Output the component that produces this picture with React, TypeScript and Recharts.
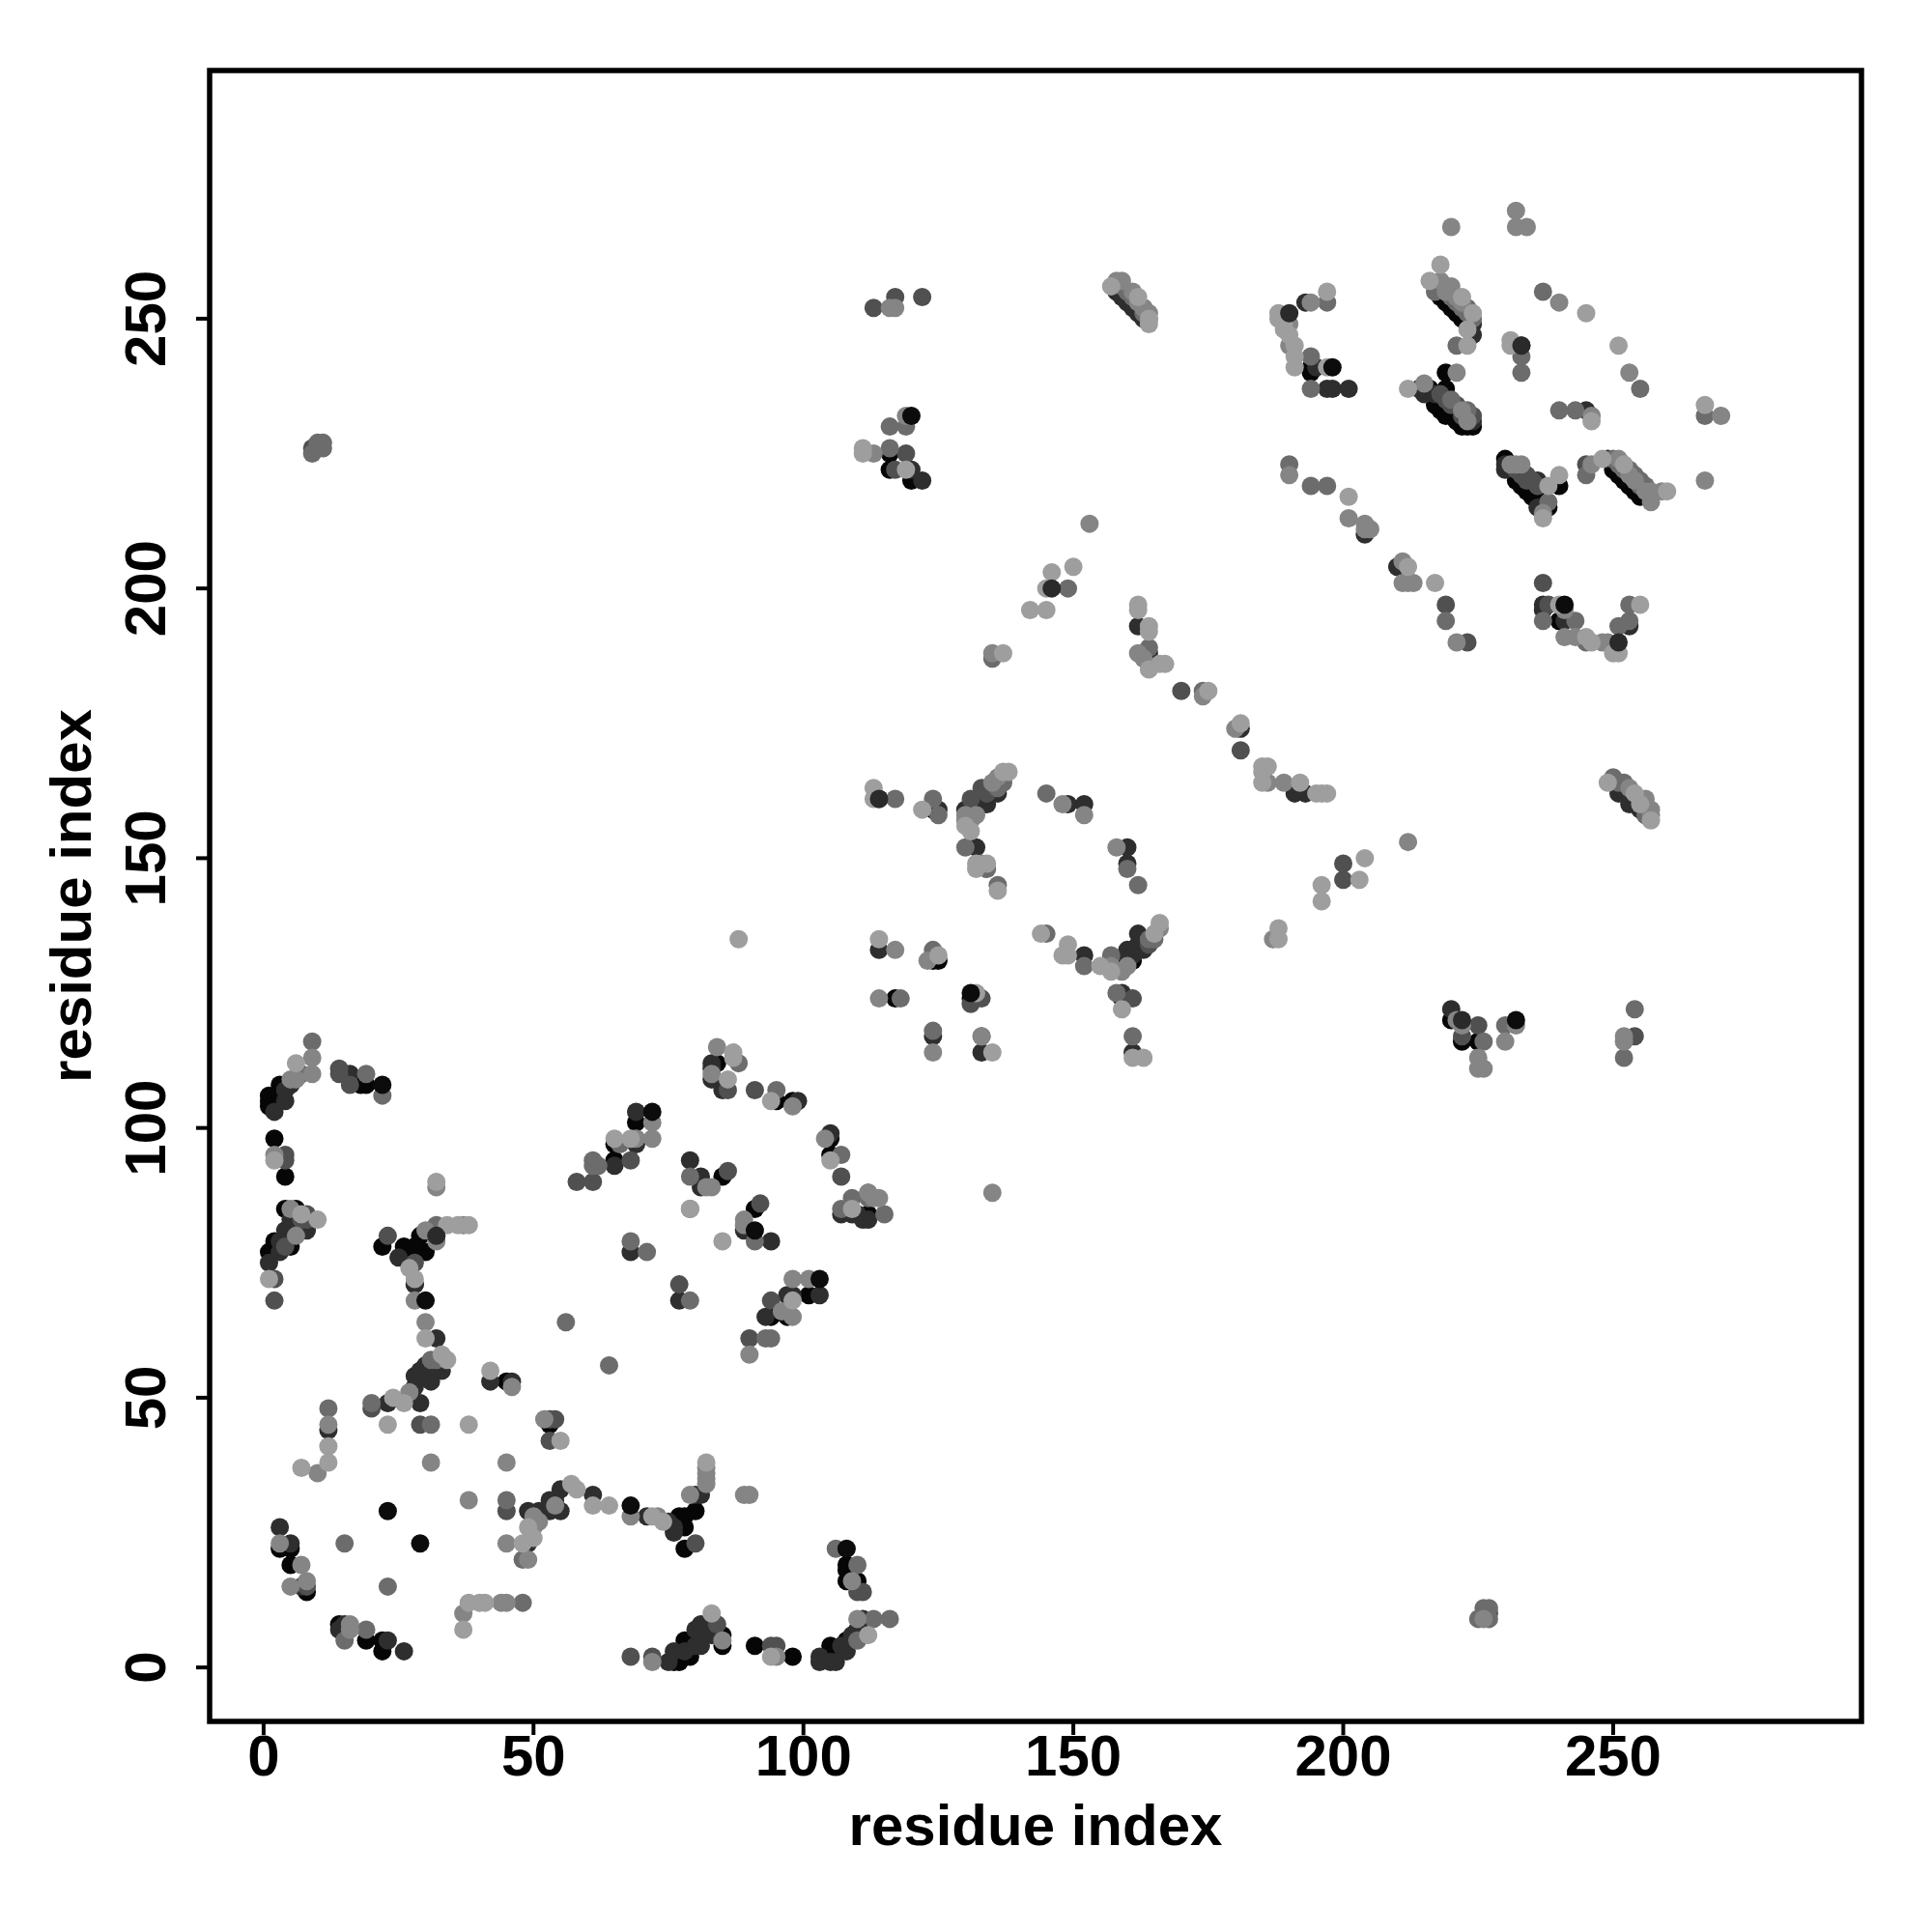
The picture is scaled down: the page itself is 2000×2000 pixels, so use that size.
import { ScatterChart, Scatter, XAxis, YAxis, ReferenceArea } from "recharts";

type Contact = [number, number];

const axisTicks = [0, 50, 100, 150, 200, 250];
const axisDomain = [-10, 296];
const axisTitle = "residue index";
const fontFamily = '"Liberation Sans", Arial, sans-serif';

// contacts split by grey level
const greyLightest: Contact[] = [
  [1, 72], [7, 37], [12, 41], [12, 38], [23, 45], [26, 49], [24, 50], [28, 72], [27, 74], [30, 61],
  [33, 58], [34, 57], [38, 45], [42, 55], [37, 7], [38, 12], [40, 12], [41, 12], [49, 26], [50, 24],
  [48, 23], [57, 34], [58, 33], [61, 30], [64, 30], [72, 28], [74, 27], [83, 10], [82, 38], [94, 2],
  [112, 6], [2, 94], [6, 112], [7, 84], [10, 83], [34, 82], [36, 82], [38, 82], [32, 90], [65, 98],
  [68, 98], [79, 85], [85, 79], [87, 114], [87, 113], [86, 109], [94, 105], [98, 68], [105, 94], [109, 85],
  [88, 135], [113, 163], [113, 161], [114, 135], [122, 159], [125, 132], [132, 125], [135, 114], [132, 149], [132, 148],
  [134, 149], [130, 156], [131, 155], [137, 166], [138, 166], [136, 144], [144, 136], [149, 134], [149, 132], [148, 132],
  [155, 130], [157, 129], [159, 122], [161, 113], [163, 113], [165, 136], [166, 138], [111, 226], [111, 225], [119, 222],
  [137, 188], [142, 196], [145, 196], [145, 200], [146, 203], [150, 204], [162, 197], [162, 196], [164, 193], [164, 192],
  [164, 185], [166, 186], [167, 186], [175, 181], [181, 175], [185, 167], [185, 166], [185, 164], [186, 167], [192, 164],
  [195, 162], [196, 162], [197, 162], [204, 150], [203, 146], [196, 145], [196, 142], [188, 137], [188, 135], [157, 256],
  [162, 254], [164, 249], [249, 164], [254, 162], [257, 157], [197, 255], [188, 251], [188, 250], [189, 249], [189, 248],
  [190, 247], [191, 245], [191, 243], [191, 241], [197, 241], [218, 260], [216, 257], [212, 237], [231, 246], [231, 245],
  [245, 251], [251, 245], [246, 231], [267, 234], [201, 217], [212, 204], [217, 201], [237, 213], [240, 221], [238, 219],
  [248, 224], [252, 223], [260, 218], [240, 197], [245, 191], [246, 190], [250, 188], [251, 188], [255, 197], [223, 245],
  [223, 248], [222, 254], [224, 251], [55, 42], [255, 160], [164, 250],
];

const greyMid: Contact[] = [
  [3, 23], [7, 19], [5, 15], [8, 16], [16, 8], [16, 7], [12, 45], [10, 36], [31, 38], [45, 38],
  [38, 31], [45, 23], [46, 52], [30, 64], [28, 68], [37, 10], [44, 12], [45, 12], [51, 27], [50, 26],
  [49, 20], [68, 28], [73, 28], [79, 32], [82, 37], [82, 36], [82, 35], [82, 34], [89, 32], [90, 32],
  [95, 2], [72, 1], [85, 5], [110, 9], [109, 16], [2, 95], [5, 109], [9, 113], [9, 110], [5, 85],
  [32, 89], [37, 82], [32, 79], [30, 81], [72, 101], [72, 98], [69, 98], [82, 89], [83, 89], [89, 83],
  [89, 82], [84, 115], [83, 110], [98, 72], [101, 72], [98, 65], [96, 66], [104, 98], [113, 87], [114, 87],
  [98, 104], [90, 58], [117, 252], [116, 252], [119, 232], [113, 225], [130, 158], [130, 157], [132, 158], [131, 157],
  [135, 164], [136, 165], [133, 149], [158, 152], [148, 160], [152, 158], [159, 129], [166, 137], [124, 114], [117, 133],
  [114, 124], [123, 131], [133, 117], [153, 212], [135, 188], [162, 188], [163, 187], [174, 180], [180, 174], [186, 164],
  [189, 164], [212, 153], [187, 135], [159, 257], [161, 255], [158, 257], [256, 161], [257, 159], [190, 249], [190, 245],
  [194, 253], [190, 221], [218, 257], [219, 255], [220, 256], [221, 240], [222, 233], [215, 238], [223, 231], [240, 253],
  [253, 240], [246, 232], [270, 232], [267, 220], [201, 213], [204, 212], [204, 211], [205, 211], [211, 205], [212, 201],
  [211, 201], [213, 201], [233, 223], [237, 214], [246, 223], [251, 224], [259, 218], [257, 216], [241, 196], [241, 191],
  [243, 191], [248, 190], [249, 190], [221, 190], [221, 120], [222, 119], [225, 111], [226, 111], [232, 119], [232, 267],
  [232, 270], [234, 267], [220, 267], [226, 9], [252, 116], [252, 117], [230, 116], [225, 113], [135, 88], [112, 88],
  [52, 46], [27, 51], [50, 28], [54, 30], [162, 253], [163, 252], [164, 251], [253, 163], [255, 161], [256, 160],
  [257, 158], [219, 256], [220, 255], [221, 254], [222, 253], [231, 223], [232, 223], [253, 221], [254, 220], [256, 218],
  [257, 218], [157, 130], [160, 130], [6, 80], [6, 109],
];

const greyDark: Contact[] = [
  [15, 23], [23, 15], [12, 48], [20, 49], [15, 5], [19, 7], [31, 45], [45, 31], [48, 12], [48, 20],
  [110, 5], [113, 9], [116, 9], [106, 22], [110, 19], [9, 116], [19, 110], [22, 106], [32, 82], [68, 79],
  [71, 77], [56, 64], [64, 56], [61, 94], [61, 93], [62, 93], [66, 97], [79, 91], [79, 85], [91, 79],
  [95, 107], [107, 95], [88, 112], [107, 85], [109, 87], [112, 87], [112, 88], [115, 84], [79, 68], [93, 61],
  [94, 61], [116, 230], [116, 226], [119, 230], [130, 152], [134, 148], [136, 145], [124, 161], [117, 161], [125, 158],
  [145, 162], [145, 136], [152, 130], [157, 132], [158, 125], [161, 117], [162, 145], [160, 148], [164, 135], [137, 164],
  [124, 133], [118, 124], [124, 118], [133, 117], [149, 200], [135, 187], [164, 189], [174, 181], [250, 165], [256, 158],
  [164, 250], [163, 251], [197, 253], [194, 243], [194, 237], [190, 223], [194, 219], [233, 243], [233, 240], [237, 255],
  [255, 237], [240, 233], [243, 233], [267, 232], [221, 245], [217, 255], [224, 250], [220, 235], [223, 233], [238, 216],
  [245, 221], [253, 222], [255, 220], [256, 219], [237, 194], [243, 194], [245, 190], [251, 193], [253, 194], [253, 197],
  [219, 194], [226, 116], [230, 119], [254, 122], [227, 11], [226, 11], [225, 9], [227, 9], [9, 225], [10, 227],
  [11, 226], [11, 227], [252, 113], [159, 256], [160, 255], [161, 254], [251, 164], [252, 164], [218, 256], [219, 255],
  [220, 254], [221, 253], [222, 252], [223, 251], [223, 252], [250, 224], [251, 223], [252, 222], [254, 221], [255, 219],
  [165, 135], [136, 163], [32, 57], [31, 57], [7, 110], [197, 219],
];

const greyDeep: Contact[] = [
  [2, 72], [2, 68], [8, 15], [80, 23], [29, 45], [45, 29], [20, 48], [53, 42], [68, 2], [72, 2],
  [84, 8], [94, 4], [95, 4], [110, 14], [111, 14], [8, 84], [8, 83], [14, 111], [14, 110], [16, 108],
  [4, 95], [4, 94], [23, 80], [28, 75], [68, 94], [58, 90], [61, 90], [77, 71], [86, 92], [92, 86],
  [91, 107], [86, 107], [107, 91], [94, 68], [90, 61], [113, 252], [117, 254], [122, 254], [119, 225], [117, 222],
  [133, 163], [131, 161], [161, 124], [133, 124], [131, 123], [170, 181], [181, 170], [200, 146], [200, 149], [219, 197],
  [223, 190], [234, 221], [245, 223], [238, 197], [225, 119], [222, 117], [254, 117], [237, 201], [9, 226], [227, 10],
  [53, 46], [54, 46], [218, 236], [219, 235], [220, 234], [221, 234], [222, 232], [223, 232], [224, 232], [232, 222],
  [233, 221], [234, 220], [235, 220], [236, 219], [164, 134], [134, 162], [135, 163], [7, 83], [4, 78],
];

const greyCharcoal: Contact[] = [
  [3, 26], [5, 23], [7, 15], [15, 8], [14, 7], [23, 5], [26, 3], [12, 44], [23, 49], [42, 53],
  [46, 53], [32, 61], [33, 55], [32, 56], [30, 56], [30, 54], [31, 53], [28, 54], [29, 55], [28, 52],
  [29, 49], [55, 33], [54, 31], [55, 29], [53, 31], [53, 29], [49, 29], [51, 29], [49, 23], [61, 32],
  [71, 28], [75, 27], [76, 26], [76, 25], [76, 3], [75, 1], [78, 3], [80, 7], [80, 4], [81, 6],
  [81, 4], [81, 8], [83, 6], [103, 2], [103, 1], [105, 1], [106, 1], [108, 3], [107, 4], [109, 6],
  [111, 9], [110, 7], [80, 32], [81, 32], [5, 108], [4, 107], [2, 103], [4, 105], [16, 110], [5, 81],
  [7, 81], [8, 81], [4, 81], [1, 75], [3, 77], [25, 76], [32, 80], [28, 71], [68, 77], [69, 103],
  [69, 98], [69, 97], [65, 93], [79, 94], [81, 91], [81, 89], [89, 81], [94, 79], [77, 68], [83, 112],
  [83, 111], [83, 109], [85, 107], [99, 105], [105, 99], [107, 84], [110, 84], [109, 84], [112, 83], [111, 83],
  [97, 69], [98, 69], [103, 69], [93, 65], [114, 161], [125, 159], [130, 159], [136, 162], [134, 160], [132, 160],
  [131, 159], [132, 152], [149, 160], [152, 160], [160, 152], [160, 149], [159, 125], [159, 131], [160, 133], [162, 134],
  [162, 136], [163, 133], [152, 132], [114, 133], [124, 117], [133, 114], [161, 114], [122, 220], [120, 222], [158, 256],
  [160, 254], [163, 252], [252, 163], [251, 162], [253, 160], [193, 253], [198, 237], [197, 237], [201, 237], [195, 241],
  [233, 245], [245, 233], [224, 249], [224, 247], [214, 237], [215, 236], [217, 236], [224, 231], [230, 222], [236, 220],
  [230, 223], [236, 215], [249, 224], [257, 217], [210, 204], [204, 210], [237, 197], [237, 196], [241, 194], [253, 193],
  [220, 122], [162, 193], [164, 188], [181, 174], [191, 162], [193, 162], [158, 255], [159, 254], [160, 253], [161, 252],
  [162, 251], [163, 250], [252, 162], [253, 161], [254, 160], [255, 159], [256, 158], [161, 133], [163, 134], [160, 131],
  [158, 131], [161, 132], [133, 161], [132, 161], [133, 160], [131, 158], [31, 55], [3, 79], [5, 83],
];

const greyBlack: Contact[] = [
  [3, 22], [5, 22], [5, 19], [8, 14], [14, 8], [19, 5], [22, 5], [22, 3], [28, 71], [45, 53],
  [76, 1], [77, 1], [77, 2], [78, 5], [79, 2], [85, 6], [85, 4], [91, 4], [98, 2], [105, 4],
  [106, 3], [108, 5], [108, 16], [110, 16], [108, 18], [108, 19], [77, 28], [78, 28], [78, 26], [78, 22],
  [80, 29], [3, 108], [1, 106], [1, 105], [1, 104], [3, 105], [2, 98], [4, 91], [4, 85], [6, 85],
  [2, 79], [5, 78], [1, 77], [22, 78], [26, 78], [27, 77], [29, 80], [30, 77], [28, 78], [18, 108],
  [19, 108], [69, 101], [65, 97], [65, 94], [85, 91], [91, 85], [84, 112], [95, 105], [98, 105], [105, 98],
  [105, 95], [112, 84], [101, 69], [94, 65], [97, 65], [131, 160], [161, 131], [159, 124], [131, 124], [124, 159],
  [124, 131], [125, 131], [117, 124], [116, 225], [116, 222], [120, 220], [194, 241], [194, 240], [217, 256], [218, 254],
  [219, 253], [220, 252], [221, 251], [222, 250], [219, 240], [216, 237], [219, 237], [217, 234], [220, 232], [222, 230],
  [224, 230], [230, 224], [232, 220], [234, 218], [237, 219], [240, 219], [238, 215], [251, 221], [253, 219], [255, 217],
  [240, 194], [222, 116], [225, 116], [220, 120], [53, 45], [216, 236], [217, 235], [218, 235], [218, 233], [219, 234],
  [219, 232], [220, 233], [221, 232], [221, 231], [222, 231], [223, 230], [231, 222], [232, 221], [233, 219], [235, 217],
  [236, 216], [237, 216], [235, 219], [237, 217], [250, 222], [252, 220], [254, 218], [255, 218],
];

// dark dots that sit on top of lighter neighbours
const frontCharcoal: Contact[] = [
  [146, 200], [114, 161], [233, 245], [251, 190], [190, 251], [222, 120], [32, 80],
];
const frontBlack: Contact[] = [
  [30, 68], [23, 29], [29, 23], [68, 30], [72, 103], [22, 108], [91, 81], [103, 72], [120, 232], [198, 241],
  [241, 197], [232, 120], [108, 22], [131, 125],
];

const layers = [
  { name: "black", data: greyBlack, fill: "#060606" },
  { name: "charcoal", data: greyCharcoal, fill: "#2e2e2e" },
  { name: "deep", data: greyDeep, fill: "#505050" },
  { name: "dark", data: greyDark, fill: "#6c6c6c" },
  { name: "mid", data: greyMid, fill: "#858585" },
  { name: "lightest", data: greyLightest, fill: "#9e9e9e" },
  { name: "frontCharcoal", data: frontCharcoal, fill: "#2a2a2a" },
  { name: "frontBlack", data: frontBlack, fill: "#0c0c0c" },
];

const Dot = (props: any) => <circle cx={props.cx} cy={props.cy} r={9.5} fill={props.fill} />;

const XTick = ({ x, y, payload }: any) => (
  <text x={x} y={y + 40} textAnchor="middle" fontFamily={fontFamily} fontWeight={700} fontSize={60} fill="#000">
    {payload.value}
  </text>
);

const YTick = ({ x, y, payload }: any) => (
  <text
    x={0}
    y={0}
    transform={`translate(${x - 30},${y}) rotate(-90)`}
    textAnchor="middle"
    fontFamily={fontFamily}
    fontWeight={700}
    fontSize={60}
    fill="#000"
  >
    {payload.value}
  </text>
);

export default function App() {
  return (
    <div style={{ position: "absolute", left: 0, top: 0, width: 2000, height: 2000, background: "#fff" }}>
      <ScatterChart width={2000} height={2000} margin={{ top: 73, right: 73, bottom: 0, left: 0 }}>
        <XAxis
          type="number"
          dataKey="x"
          domain={axisDomain}
          ticks={axisTicks}
          allowDataOverflow
          axisLine={false}
          tickSize={14}
          tickLine={{ stroke: "#000", strokeWidth: 4 }}
          tick={<XTick />}
          height={218}
          label={{
            value: axisTitle,
            position: "insideBottom",
            offset: 90,
            style: { fontFamily, fontWeight: 700, fontSize: 60, fill: "#000" },
          }}
        />
        <YAxis
          type="number"
          dataKey="y"
          domain={axisDomain}
          ticks={axisTicks}
          allowDataOverflow
          axisLine={false}
          tickSize={14}
          tickLine={{ stroke: "#000", strokeWidth: 4 }}
          tick={<YTick />}
          width={217}
          label={{
            value: axisTitle,
            angle: -90,
            position: "insideLeft",
            offset: 73,
            style: { fontFamily, fontWeight: 700, fontSize: 60, fill: "#000", textAnchor: "middle" },
          }}
        />
        {layers.map((layer) => (
          <Scatter
            key={layer.name}
            name={layer.name}
            data={layer.data.map(([x, y]) => ({ x, y }))}
            fill={layer.fill}
            shape={<Dot />}
            isAnimationActive={false}
          />
        ))}
        <ReferenceArea
          x1={axisDomain[0]}
          x2={axisDomain[1]}
          y1={axisDomain[0]}
          y2={axisDomain[1]}
          fill="none"
          stroke="#000"
          strokeWidth={5.5}
        />
      </ScatterChart>
    </div>
  );
}
